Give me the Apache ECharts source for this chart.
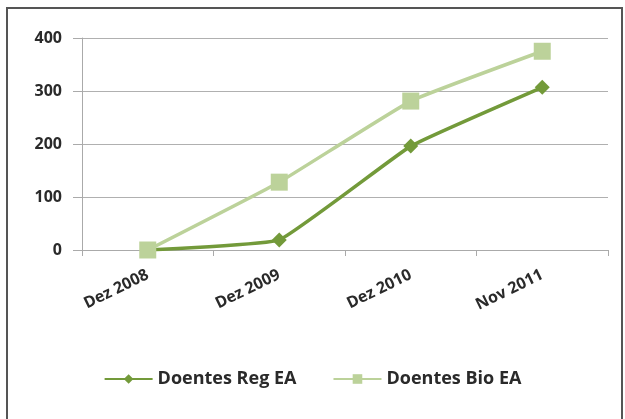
<!DOCTYPE html>
<html><head><meta charset="utf-8">
<script src="https://cdn.jsdelivr.net/npm/echarts@6/dist/echarts.min.js"></script>
<style>html,body{margin:0;padding:0;background:#fff}#c{width:625px;height:419px}</style>
</head><body><div id="c"></div>
<script>
const categories = ['Dez 2008', 'Dez 2009', 'Dez 2010', 'Nov 2011'];
const regEA = [0, 19, 196, 307];
const bioEA = [0, 128, 281, 375];
const yTicks = [0, 100, 200, 300, 400];

const chart = echarts.init(document.getElementById('c'));
const font = '"Open Sans", "Noto Sans", sans-serif';
chart.setOption({
  animation: false,
  backgroundColor: '#fff',
  graphic: [{
    type: 'rect', shape: {x: 7, y: 8, width: 615, height: 414},
    style: {fill: 'none', stroke: '#555', lineWidth: 2}
  }],
  grid: {left: 82, right: 17, top: 38, bottom: 169},
  legend: {
    top: 365, left: 'center', itemWidth: 48, itemHeight: 12, itemGap: 36,
    textStyle: {fontFamily: font, fontSize: 18, fontWeight: 'bold', color: '#2a2a2a'},
    data: ['Doentes Reg EA', 'Doentes Bio EA']
  },
  xAxis: {
    type: 'category', data: categories, boundaryGap: true,
    axisLine: {lineStyle: {color: '#aaa', width: 1}},
    axisTick: {show: true, length: 6, lineStyle: {color: '#aaa'}},
    axisLabel: {rotate: 26, fontFamily: font, fontSize: 16, fontWeight: 'bold', color: '#2a2a2a', margin: 24}
  },
  yAxis: {
    type: 'value', min: 0, max: 400, interval: 100,
    axisLine: {show: true, lineStyle: {color: '#aaa'}},
    axisTick: {show: true, length: 9, lineStyle: {color: '#aaa'}},
    splitLine: {lineStyle: {color: '#b0b0b0', width: 1}},
    axisLabel: {fontFamily: font, fontSize: 16, fontWeight: 'bold', color: '#2a2a2a', margin: 20,
      formatter: v => yTicks.includes(v) ? String(v) : ''}
  },
  series: [{
    name: 'Doentes Reg EA', type: 'line', data: regEA, smooth: 0.1,
    symbol: 'diamond', symbolSize: 15,
    lineStyle: {color: '#739a3a', width: 3.5}, itemStyle: {color: '#739a3a'}
  }, {
    name: 'Doentes Bio EA', type: 'line', data: bioEA, smooth: 0.1,
    symbol: 'rect', symbolSize: 17,
    lineStyle: {color: '#bcd29a', width: 3.5}, itemStyle: {color: '#bcd29a'}
  }]
});
</script></body></html>
